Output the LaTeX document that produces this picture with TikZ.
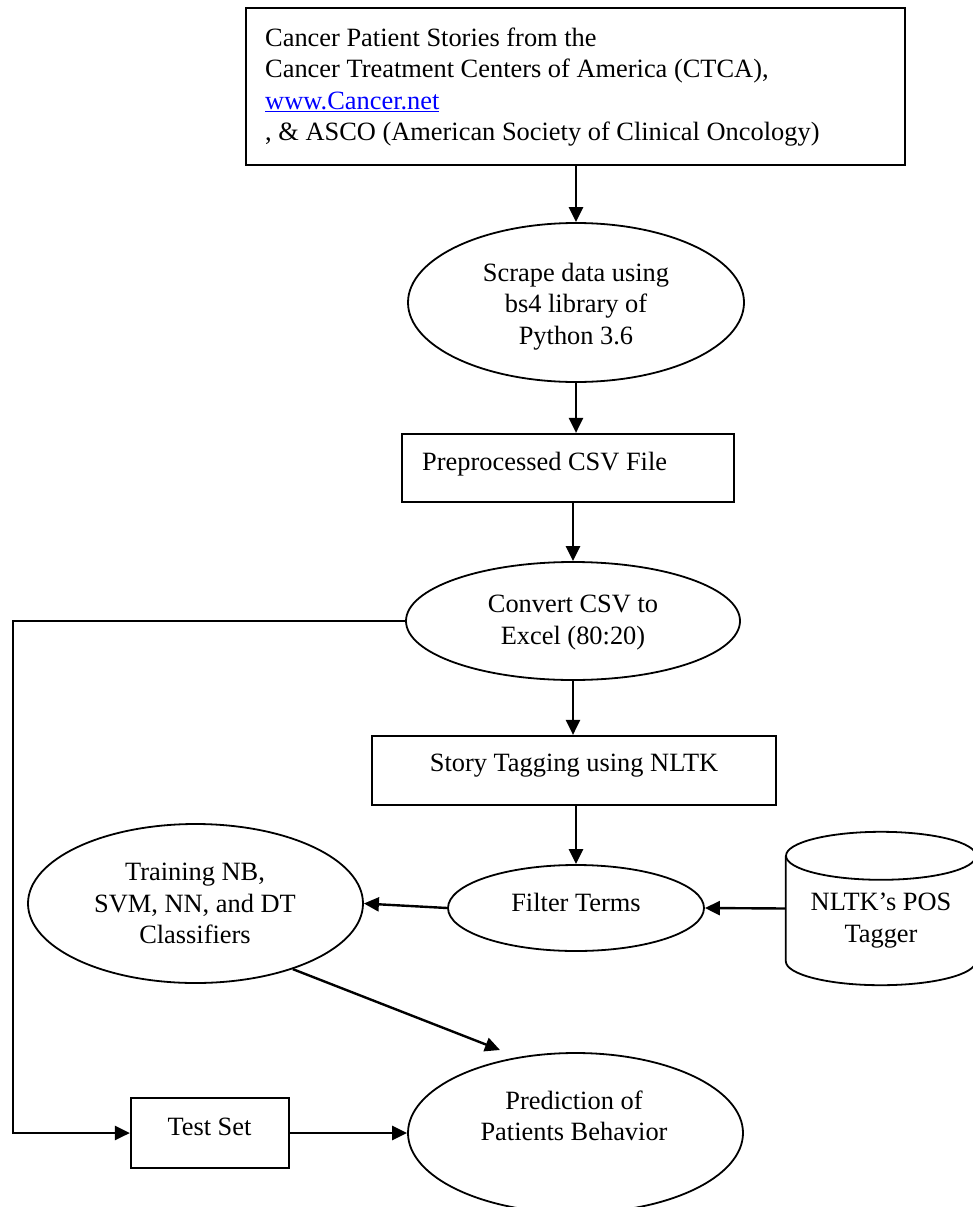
\documentclass[tikz,border=0pt]{standalone}
\usepackage{fontspec}
\setmainfont{Liberation Serif}
\usetikzlibrary{shapes.geometric,arrows.meta}
\definecolor{linkblue}{RGB}{0,0,255}
\begin{document}
\begin{tikzpicture}[x=1pt,y=-1pt,
  txt/.style={font=\fontsize{26.4}{31.4}\selectfont, inner sep=0pt, align=center},
  boxshape/.style={draw, line width=2.2pt, rectangle, inner sep=0pt},
  ellshape/.style={draw, line width=1.8pt, ellipse, inner sep=0pt},
  cyl/.style={line width=1.8pt},
  arr/.style={line width=2.4pt, -{Triangle[length=15pt,width=14pt]}},
  link/.style={line width=2.4pt}]
\useasboundingbox (0,0) rectangle (972,1207);

% shapes
\node[boxshape, minimum width=659pt, minimum height=157pt] (src) at (575.5,86.5) {};
\node[ellshape, minimum width=336pt, minimum height=159pt] (e1) at (576,302.5) {};
\node[boxshape, minimum width=332pt, minimum height=68pt] (pre) at (568,468) {};
\node[ellshape, minimum width=334pt, minimum height=118pt] (e2) at (573,621) {};
\node[boxshape, minimum width=404pt, minimum height=69pt] (story) at (574,770.5) {};
\node[ellshape, minimum width=256pt, minimum height=86pt] (filt) at (576,908) {};
\node[ellshape, minimum width=335pt, minimum height=159pt] (train) at (195.5,903.5) {};
\node[rectangle, inner sep=0pt, minimum width=190pt, minimum height=153pt] (pos) at (881,908.5) {};
\node[boxshape, minimum width=158pt, minimum height=70pt] (test) at (210,1133) {};
\node[ellshape, minimum width=335pt, minimum height=160pt] (pred) at (575.5,1133) {};

% cylinder outline
\draw[cyl] ([yshift=-24pt]pos.north west) -- ([yshift=24pt]pos.south west)
  arc[start angle=180, end angle=360, x radius=95pt, y radius=24pt]
  -- ([yshift=-24pt]pos.north east);
\draw[cyl] ([yshift=-24pt]pos.north) ellipse [x radius=95pt, y radius=24pt];

% texts
\node[txt, align=left, anchor=west] (srct) at (265,87)
  {Cancer Patient Stories from the\\Cancer Treatment Centers of America (CTCA),\\\textcolor{linkblue}{\underline{www.Cancer.net}}\\, \& ASCO (American Society of Clinical Oncology)};
\node[txt] (e1t) at (576,306.5) {Scrape data using\\bs4 library of\\Python 3.6};
\node[txt, anchor=west] (pret) at (422,464) {Preprocessed CSV File};
\node[txt] (e2t) at (573,622.5) {Convert CSV to\\Excel (80:20)};
\node[txt] (storyt) at (574,766) {Story Tagging using NLTK};
\node[txt] (filtt) at (576,902) {Filter Terms};
\node[txt] (traint) at (195,903.5) {Training NB,\\SVM, NN, and DT\\Classifiers};
\node[txt] (post) at (881,920.5) {NLTK’s POS\\Tagger};
\node[txt] (testt) at (209.5,1127) {Test Set};
\node[txt] (predt) at (574,1116) {Prediction of\\Patients Behavior};

% connectors
\coordinate (lx) at (13,0);
\coordinate (ptip) at (500,1050);
\draw[arr] (src.south -| e1.north) -- (e1.north);
\draw[arr] (e1.south) -- (e1.south |- pre.north);
\draw[arr] (pre.south -| e2.north) -- (e2.north);
\draw[arr] (e2.south) -- (e2.south |- story.north);
\draw[arr] (story.south -| filt.north) -- (filt.north);
\draw[arr] (pos.west) -- (filt.east);
\draw[arr] (filt.west) -- (train.east);
\draw[arr] (train.-34) -- (ptip);
\draw[arr] (e2.west) -- (e2.west -| lx) |- (test.west);
\draw[arr] (test.east) -- (pred.west);
\end{tikzpicture}
\end{document}
